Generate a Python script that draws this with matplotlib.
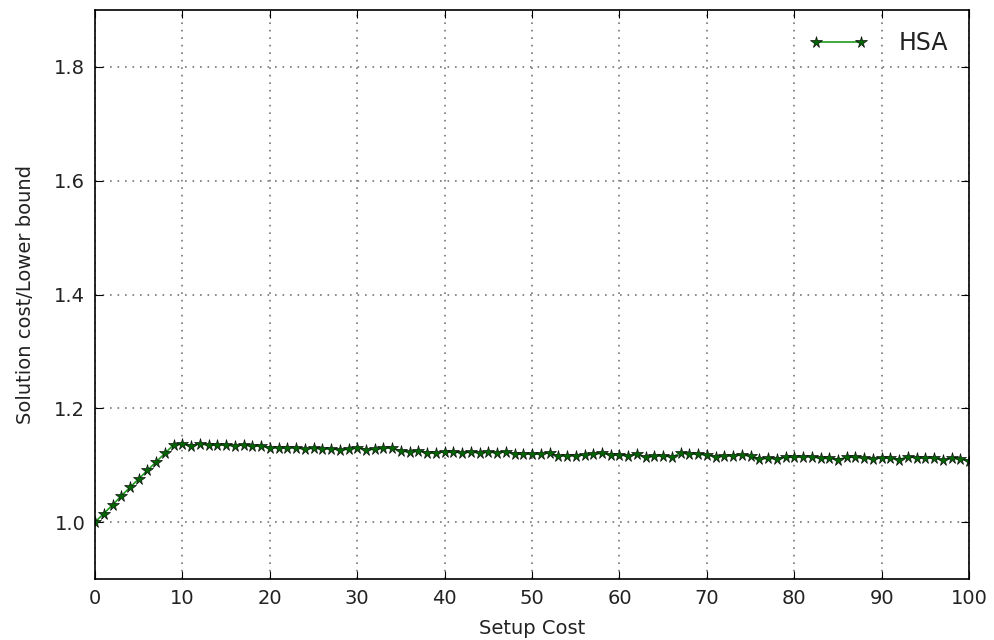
import matplotlib
matplotlib.use("Agg")
import matplotlib.pyplot as plt
import numpy as np

setup_cost = list(range(0, 101))
ratio = [
    1.000, 1.015, 1.030, 1.046, 1.061, 1.076, 1.091, 1.106, 1.121, 1.136,
    1.137, 1.134, 1.138, 1.135, 1.136, 1.135, 1.134, 1.136, 1.133, 1.134,
    1.130, 1.131, 1.130, 1.131, 1.128, 1.130, 1.129, 1.129, 1.127, 1.128,
    1.131, 1.127, 1.128, 1.130, 1.130, 1.125, 1.123, 1.125, 1.122, 1.121,
    1.124, 1.123, 1.122, 1.123, 1.122, 1.123, 1.122, 1.124, 1.120, 1.119,
    1.120, 1.119, 1.122, 1.116, 1.117, 1.117, 1.118, 1.119, 1.121, 1.118,
    1.118, 1.116, 1.119, 1.114, 1.116, 1.117, 1.114, 1.122, 1.120, 1.119,
    1.118, 1.115, 1.116, 1.117, 1.118, 1.116, 1.111, 1.112, 1.111, 1.114,
    1.114, 1.115, 1.115, 1.112, 1.112, 1.110, 1.114, 1.114, 1.112, 1.111,
    1.113, 1.112, 1.110, 1.115, 1.113, 1.113, 1.112, 1.109, 1.112, 1.111,
    1.107,
]
series_label = "HSA"
x_ticks = [0, 10, 20, 30, 40, 50, 60, 70, 80, 90, 100]
y_ticks = [1.0, 1.2, 1.4, 1.6, 1.8]

fig = plt.figure(figsize=(9.95, 6.4), dpi=100)
ax = fig.add_axes([0.0955, 0.0953, 0.8785, 0.889])

ax.plot(setup_cost, ratio, color="#1f9a1f", linewidth=1.2, marker="*",
        markersize=8.5, markerfacecolor="#006400", markeredgecolor="#111111",
        markeredgewidth=0.5, label=series_label)

ax.set_xlim(0, 100)
ax.set_ylim(0.9, 1.9)
ax.set_xticks(x_ticks)
ax.set_yticks(y_ticks)
ax.set_yticklabels([f"{v:.1f}" for v in y_ticks])
ax.tick_params(direction="in", top=True, right=True, length=6, width=0.8,
               labelsize=14, pad=7, colors="black", labelcolor="#222222")
ax.grid(True, linestyle=(0, (1, 3.5)), color="#777777", linewidth=1.2)
for s in ax.spines.values():
    s.set_linewidth(1.2)
    s.set_color("black")

ax.set_xlabel("Setup Cost", fontsize=14, labelpad=8, color="#222222")
ax.set_ylabel("Solution cost/Lower bound", fontsize=14, labelpad=14, color="#222222")

leg = ax.legend(loc="upper right", frameon=False, fontsize=17, numpoints=2,
                handlelength=2.5, handletextpad=1.3, borderaxespad=0.5)
for t in leg.get_texts():
    t.set_color("#222222")

fig.savefig("out.png", dpi=100)
